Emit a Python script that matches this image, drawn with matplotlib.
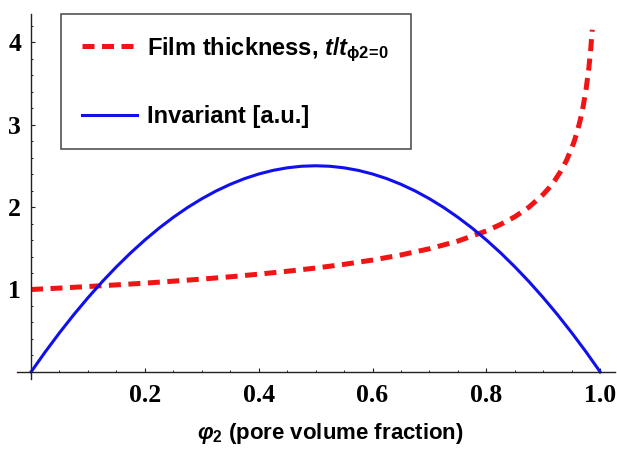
import matplotlib
matplotlib.use("Agg")
import matplotlib.pyplot as plt
from matplotlib.ticker import MultipleLocator

plt.rcParams['mathtext.fontset'] = 'custom'
plt.rcParams['mathtext.rm'] = 'Liberation Sans:bold'
plt.rcParams['mathtext.it'] = 'Liberation Sans:bold:italic'
plt.rcParams['mathtext.bf'] = 'Liberation Sans:bold'

# pore volume fraction vs. relative film thickness
phi_film = [0.0, 0.05, 0.10, 0.15, 0.20, 0.25, 0.30, 0.35, 0.40, 0.45, 0.50,
            0.55, 0.60, 0.65, 0.70, 0.75, 0.80, 0.825, 0.85, 0.875, 0.90, 0.91,
            0.92, 0.93, 0.94, 0.95, 0.955, 0.96, 0.965, 0.97, 0.975, 0.98,
            0.983, 0.986]
thickness = [1.000, 1.017, 1.036, 1.056, 1.077, 1.101, 1.126, 1.154, 1.186,
             1.221, 1.260, 1.305, 1.357, 1.419, 1.494, 1.587, 1.710, 1.789,
             1.882, 1.999, 2.154, 2.231, 2.321, 2.427, 2.554, 2.714, 2.811,
             2.924, 3.057, 3.218, 3.420, 3.684, 3.888, 4.149]

# pore volume fraction vs. scattering invariant (arbitrary units)
phi_inv = [0.0, 0.025, 0.05, 0.075, 0.10, 0.125, 0.15, 0.175, 0.20, 0.225,
           0.25, 0.275, 0.30, 0.325, 0.35, 0.375, 0.40, 0.425, 0.45, 0.475,
           0.50, 0.525, 0.55, 0.575, 0.60, 0.625, 0.65, 0.675, 0.70, 0.725,
           0.75, 0.775, 0.80, 0.825, 0.85, 0.875, 0.90, 0.925, 0.95, 0.975, 1.0]
invariant = [0.000, 0.244, 0.475, 0.694, 0.900, 1.094, 1.275, 1.444, 1.600,
             1.744, 1.875, 1.994, 2.100, 2.194, 2.275, 2.344, 2.400, 2.444,
             2.475, 2.494, 2.500, 2.494, 2.475, 2.444, 2.400, 2.344, 2.275,
             2.194, 2.100, 1.994, 1.875, 1.744, 1.600, 1.444, 1.275, 1.094,
             0.900, 0.694, 0.475, 0.244, 0.000]

xticks = [0.2, 0.4, 0.6, 0.8, 1.0]
xtick_labels = ['0.2', '0.4', '0.6', '0.8', '1.0']
yticks = [1, 2, 3, 4]
ytick_labels = ['1', '2', '3', '4']

label_film = r'Film thickness, $t/t_{\mathrm{\phi 2\!=\!0}}$'
label_inv = 'Invariant [a.u.]'

fig = plt.figure(figsize=(6.17, 4.54), dpi=100)
ax = fig.add_axes([0.0276, 0.1652, 0.9692, 0.8040])

ax.plot(phi_film, thickness, color='#f01414', lw=3.6, dashes=(2.4, 1.5),
        label=label_film, dash_capstyle='butt')
ax.plot(phi_inv, invariant, color='#1010ee', lw=2.2, label=label_inv)

ax.set_xlim(-0.0246, 1.026)
ax.set_ylim(-0.085, 4.34)

# axes cross at the origin, no frame
for side in ['top', 'right']:
    ax.spines[side].set_visible(False)
ax.spines['left'].set_position(('data', 0))
ax.spines['bottom'].set_position(('data', 0))
for side in ['left', 'bottom']:
    ax.spines[side].set_linewidth(1.0)
    ax.spines[side].set_color('#222222')

tick_font = dict(fontfamily='Liberation Serif', fontweight='bold', fontsize=18.5)
ax.set_xticks(xticks, xtick_labels, **tick_font)
ax.set_yticks(yticks, ytick_labels, **tick_font)
ax.xaxis.set_minor_locator(MultipleLocator(0.05))
ax.yaxis.set_minor_locator(MultipleLocator(0.2))
ax.tick_params(which='major', direction='in', length=3, width=0.8, color='#222222')
ax.tick_params(which='minor', direction='in', length=1.5, width=0.7, color='#222222')
ax.tick_params(axis='x', which='major', pad=9)
ax.tick_params(axis='y', which='major', pad=7)

fig.text(0.536, 0.045, r'$\varphi_{\mathrm{2}}$ (pore volume fraction)',
         ha='center', va='center', fontfamily='Liberation Sans',
         fontweight='bold', fontsize=16)

leg = ax.legend(loc='upper left', bbox_to_anchor=(61 / 617, 1 - 14 / 454),
                bbox_transform=fig.transFigure, borderaxespad=0,
                prop=dict(family='Liberation Sans', weight='bold', size=17),
                handlelength=2.3, handletextpad=0.45, labelspacing=1.75,
                borderpad=0.9, fancybox=False, framealpha=1)
leg.get_frame().set_edgecolor('#444444')
leg.get_frame().set_linewidth(1.1)

fig.savefig('out.png', dpi=100)
